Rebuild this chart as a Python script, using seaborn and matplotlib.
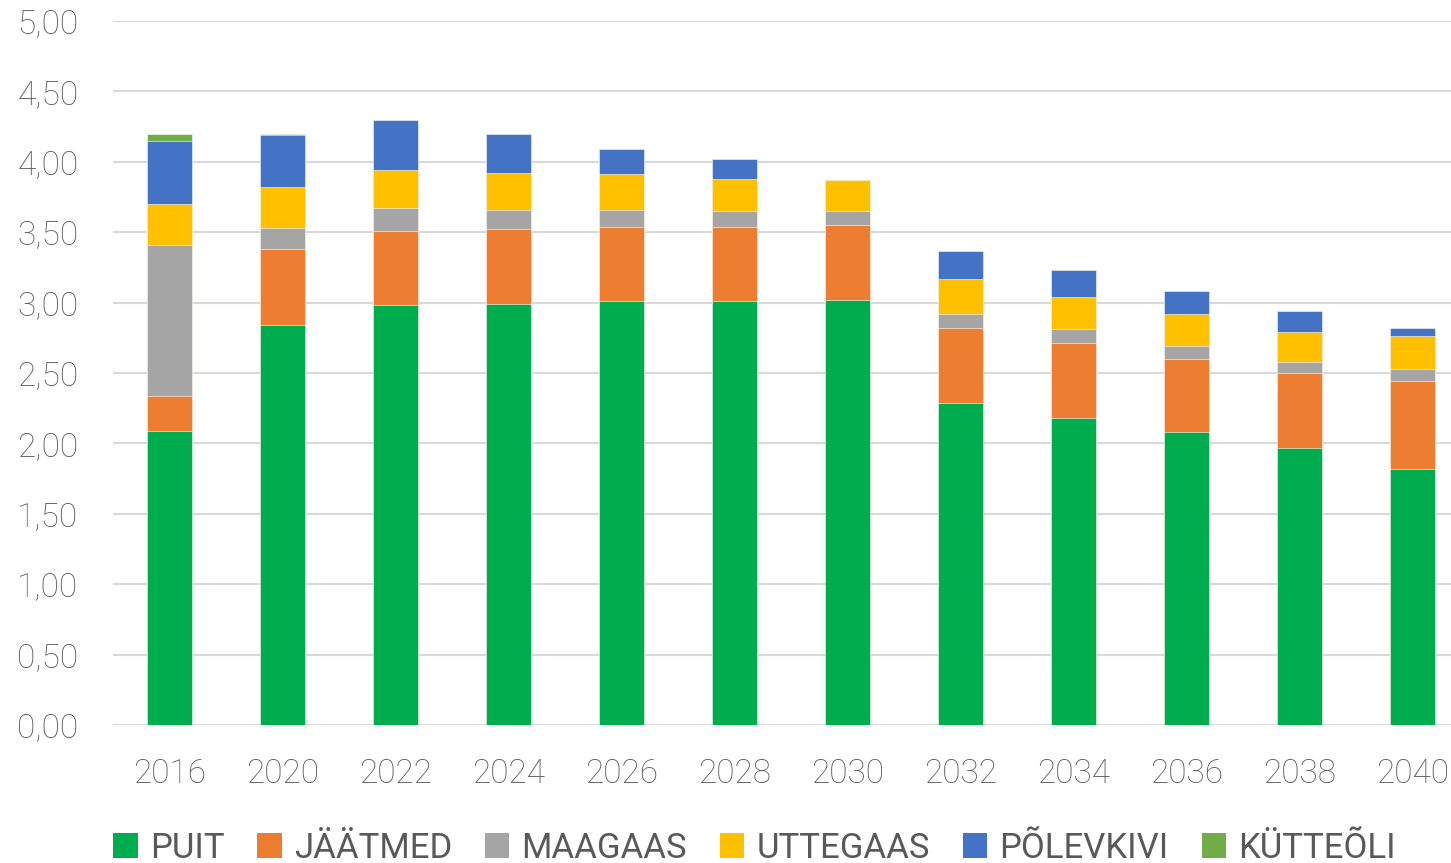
import matplotlib
matplotlib.use("Agg")
import matplotlib.pyplot as plt
import seaborn as sns
import pandas as pd
import numpy as np
from matplotlib.patches import Patch
from matplotlib.ticker import FuncFormatter, MultipleLocator

years = ["2016", "2020", "2022", "2024", "2026", "2028", "2030", "2032", "2034", "2036", "2038", "2040"]
puit      = [2.09, 2.84, 2.98, 2.99, 3.01, 3.01, 3.02, 2.29, 2.18, 2.08, 1.97, 1.82]
jaatmed   = [0.25, 0.54, 0.53, 0.53, 0.53, 0.53, 0.53, 0.53, 0.53, 0.52, 0.53, 0.62]
maagaas   = [1.07, 0.15, 0.16, 0.14, 0.12, 0.11, 0.10, 0.10, 0.10, 0.09, 0.08, 0.09]
uttegaas  = [0.29, 0.29, 0.27, 0.26, 0.25, 0.23, 0.22, 0.25, 0.23, 0.23, 0.21, 0.23]
polevkivi = [0.45, 0.37, 0.36, 0.28, 0.18, 0.14, 0.00, 0.20, 0.19, 0.16, 0.15, 0.06]
kutteoli  = [0.05, 0.01, 0.00, 0.00, 0.00, 0.00, 0.00, 0.00, 0.00, 0.00, 0.00, 0.00]

series_names = ["PUIT", "JÄÄTMED", "MAAGAAS", "UTTEGAAS", "PÕLEVKIVI", "KÜTTEÕLI"]
series_vals = [puit, jaatmed, maagaas, uttegaas, polevkivi, kutteoli]
colors = ["#00AD4E", "#ED7D31", "#A5A5A5", "#FFC000", "#4472C4", "#70AD47"]

sns.set_theme(style="white")
plt.rcParams["font.family"] = ["Roboto", "DejaVu Sans"]
txt = "#595959"

fig = plt.figure(figsize=(14.51, 8.63), dpi=100)
ax = fig.add_axes([113 / 1451, (863 - 725) / 863, (1451 - 113) / 1451, (725 - 21) / 863])

cum = np.cumsum(np.array(series_vals), axis=0)
for i in range(len(series_names) - 1, -1, -1):
    df = pd.DataFrame({"year": years, "value": cum[i]})
    sns.barplot(data=df, x="year", y="value", color=colors[i], saturation=1,
                width=0.4, ax=ax, edgecolor="white", linewidth=0.4, zorder=3)

ax.set_ylim(0, 5)
ax.set_xlim(-0.5, 11.34)
ax.yaxis.set_major_locator(MultipleLocator(0.5))
ax.yaxis.set_major_formatter(FuncFormatter(lambda v, p: f"{v:.2f}".replace(".", ",")))
ax.grid(axis="y", color="#D9D9D9", linewidth=1.5, zorder=0)
ax.set_axisbelow(True)
for s in ax.spines.values():
    s.set_visible(False)
ax.set_xlabel("")
ax.set_ylabel("")
ax.tick_params(axis="both", length=0, labelcolor=txt)
ax.tick_params(axis="x", pad=24, labelsize=24)
ax.tick_params(axis="y", pad=25, labelsize=24)
for lab in ax.get_xticklabels() + ax.get_yticklabels():
    lab.set_fontweight("light")

handles = [Patch(facecolor=c, edgecolor="none") for c in colors]
leg = fig.legend(handles, series_names, loc="lower center", bbox_to_anchor=(0.52, -0.038),
                 ncol=6, frameon=False, fontsize=25, handlelength=0.7, handleheight=0.7,
                 handletextpad=0.35, columnspacing=0.95)
for t in leg.get_texts():
    t.set_color(txt)

fig.savefig("out.png", dpi=100)
